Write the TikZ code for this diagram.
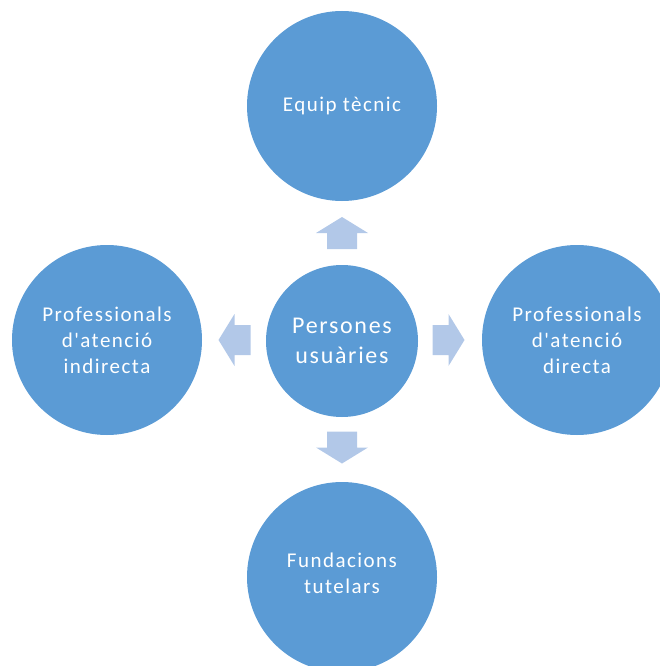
\documentclass[tikz,border=0pt]{standalone}
\usepackage{fontspec}
\newfontfamily\carl{Carlito}[LetterSpace=7]
\definecolor{circblue}{RGB}{91,155,213}
\definecolor{arrblue}{RGB}{178,200,232}
\tikzset{
  bubble/.style={circle, fill=circblue, draw=none, inner sep=0pt, minimum size=190pt,
    text=white, align=center, font=\carl\fontsize{21}{26}\selectfont},
  hub/.style={bubble, minimum size=152pt, font=\carl\fontsize{24}{30}\selectfont},
  lbl/.style={text=white, align=center, inner sep=0pt, font=\carl\fontsize{21}{26}\selectfont},
  blockarrow/.pic={\fill[arrblue] (16,0) -- (0,26) -- (0,15) -- (-16,15) -- (-16,-15) -- (0,-15) -- (0,-26) -- cycle;}
}
\begin{document}
\begin{tikzpicture}[x=1pt,y=-1pt]
\useasboundingbox (0,0) rectangle (660,666);
\clip (0,0) rectangle (660,666);
\node[hub] (pers) at (342,341) {Persones\\usuàries};
\node[bubble] (equip) at (342,106) {Equip tècnic};
\node[bubble] (indir) at (107,340) {Professionals\\d'atenció\\indirecta};
\node[bubble] (dir) at (577,340) {Professionals\\d'atenció\\directa};
\node[bubble] (fund) at (342,577) {};
\node[lbl] (fundtxt) at (342,573) {Fundacions\\tutelars};
\pic[rotate=90] (aup) at (342,233) {blockarrow};
\pic[rotate=180] (aleft) at (234.5,340) {blockarrow};
\pic (aright) at (448.5,340) {blockarrow};
\pic[rotate=-90] (adown) at (342,447.5) {blockarrow};
\end{tikzpicture}
\end{document}
